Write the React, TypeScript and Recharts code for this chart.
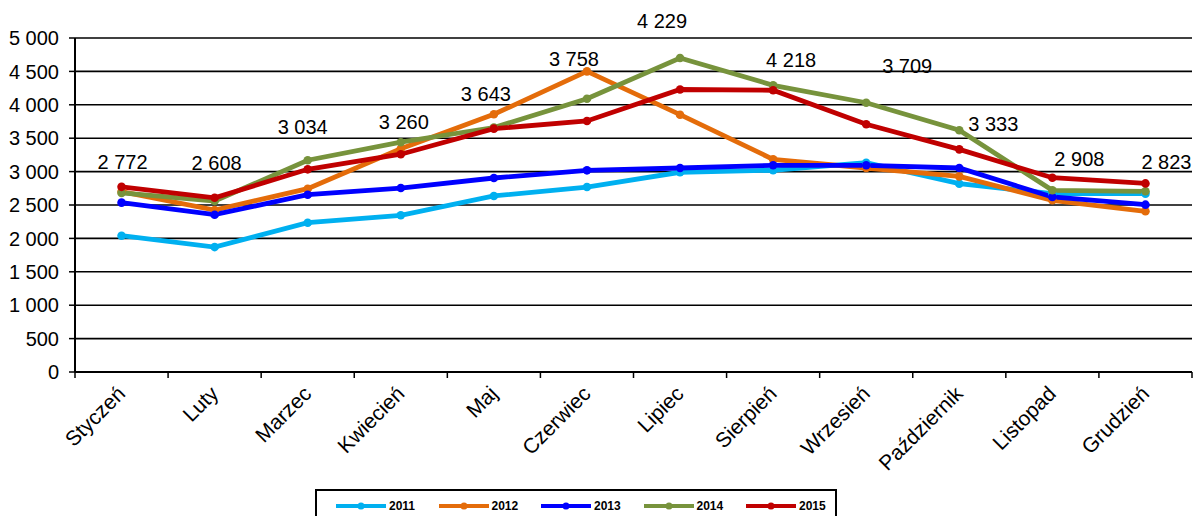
import React from 'react'
import {
  LineChart,
  Line,
  CartesianGrid,
  XAxis,
  YAxis,
  Legend,
  LabelList,
} from 'recharts'

const months = [
  'Styczeń',
  'Luty',
  'Marzec',
  'Kwiecień',
  'Maj',
  'Czerwiec',
  'Lipiec',
  'Sierpień',
  'Wrzesień',
  'Październik',
  'Listopad',
  'Grudzień',
]

const y2011 = [2040, 1870, 2235, 2346, 2635, 2769, 2990, 3020, 3133, 2819, 2670, 2670]
const y2012 = [2700, 2425, 2744, 3343, 3858, 4500, 3852, 3184, 3054, 2929, 2570, 2406]
const y2013 = [2535, 2355, 2654, 2754, 2904, 3019, 3054, 3094, 3094, 3054, 2620, 2505]
const y2014 = [2680, 2560, 3170, 3440, 3660, 4091, 4700, 4292, 4031, 3618, 2720, 2705]
const y2015 = [2772, 2608, 3034, 3260, 3643, 3758, 4229, 4218, 3709, 3333, 2908, 2823]

const yTicks = [0, 500, 1000, 1500, 2000, 2500, 3000, 3500, 4000, 4500, 5000]

const series = [
  { key: 'y2011', name: '2011', color: '#00B0F0' },
  { key: 'y2012', name: '2012', color: '#E46C0A' },
  { key: 'y2013', name: '2013', color: '#0000FF' },
  { key: 'y2014', name: '2014', color: '#77933C' },
  { key: 'y2015', name: '2015', color: '#C00000' },
]

// nudges for the 2015 value labels so they clear the other lines
const labelNudge: Array<[number, number]> = [
  [1, -25],
  [2, -35],
  [-5, -42],
  [3, -32],
  [-8, -35],
  [-13, -62],
  [-18, -69],
  [18, -30],
  [41, -58],
  [34, -25],
  [27, -19],
  [21, -21],
]

const data = months.map((month, i) => ({
  month,
  y2011: y2011[i],
  y2012: y2012[i],
  y2013: y2013[i],
  y2014: y2014[i],
  y2015: y2015[i],
}))

const WIDTH = 1193
const HEIGHT = 516
const LEFT = 75
const RIGHT = 1
const BAND = (WIDTH - LEFT - RIGHT) / months.length
const FONT = '"Liberation Sans", Arial, sans-serif'

const fmt = (v: number) => String(v).replace(/\B(?=(\d{3})+(?!\d))/g, ' ')

const MonthTick = (props: any) => {
  const { x, y, payload, index } = props
  const edge = x - BAND / 2
  const tx = x + 5
  const ty = y + 23
  return (
    <g>
      <line x1={edge} x2={edge} y1={y} y2={y + 6} stroke="#000" strokeWidth={1.5} />
      {index === months.length - 1 && (
        <line x1={x + BAND / 2} x2={x + BAND / 2} y1={y} y2={y + 6} stroke="#000" strokeWidth={1.5} />
      )}
      <text
        x={tx}
        y={ty}
        transform={`rotate(-45 ${tx} ${ty})`}
        textAnchor="end"
        fontSize={21}
        fontFamily={FONT}
        fill="#000"
      >
        {payload.value}
      </text>
    </g>
  )
}

const ValueLabel = (props: any) => {
  const { x, y, value, index } = props
  const [dx, dy] = labelNudge[index] || [0, -24]
  return (
    <text
      x={x + dx}
      y={y + dy}
      textAnchor="middle"
      dominantBaseline="central"
      fontSize={20}
      fontFamily={FONT}
      fill="#000"
    >
      {fmt(value)}
    </text>
  )
}

const LegendBox = () => (
  <div
    style={{
      boxSizing: 'border-box',
      width: 522,
      height: 32,
      border: '2px solid #000',
      background: '#fff',
      position: 'relative',
      fontFamily: FONT,
    }}
  >
    {series.map((s, i) => (
      <div
        key={s.key}
        style={{
          position: 'absolute',
          left: 18 + i * 102.5,
          top: 8,
          display: 'flex',
          alignItems: 'center',
          height: 14,
        }}
      >
        <svg width={54} height={12}>
          <line x1={1} x2={51} y1={6} y2={6} stroke={s.color} strokeWidth={4} />
          <circle cx={26} cy={6} r={3.5} fill={s.color} />
        </svg>
        <span style={{ fontSize: 12, fontWeight: 700, color: '#000' }}>{s.name}</span>
      </div>
    ))}
  </div>
)

export default function App() {
  return (
    <div style={{ position: 'absolute', left: 0, top: 0, width: WIDTH, height: HEIGHT, background: '#fff' }}>
      <LineChart
        width={WIDTH}
        height={HEIGHT}
        data={data}
        margin={{ top: 38, right: RIGHT, left: 0, bottom: 0 }}
      >
        <CartesianGrid vertical={false} stroke="#000" strokeWidth={1.6} />
        <XAxis
          dataKey="month"
          interval={0}
          height={112}
          padding={{ left: BAND / 2, right: BAND / 2 }}
          tickSize={0}
          tickMargin={0}
          tick={<MonthTick />}
          axisLine={{ stroke: '#000', strokeWidth: 2 }}
        />
        <YAxis
          width={LEFT}
          domain={[0, 5000]}
          ticks={yTicks}
          interval={0}
          tickFormatter={fmt}
          tickSize={6}
          tickMargin={10}
          tick={{ fontSize: 20, fontFamily: FONT, fill: '#000' }}
          tickLine={{ stroke: '#000', strokeWidth: 1.5 }}
          axisLine={{ stroke: '#000', strokeWidth: 2 }}
        />
        <Legend
          content={<LegendBox />}
          verticalAlign="bottom"
          wrapperStyle={{ left: 315, top: 489, width: 522 }}
        />
        {series.map((s) => (
          <Line
            key={s.key}
            type="linear"
            dataKey={s.key}
            name={s.name}
            stroke={s.color}
            strokeWidth={4.8}
            dot={{ r: 4.3, fill: s.color, stroke: 'none' }}
            activeDot={false}
            isAnimationActive={false}
          >
            {s.key === 'y2015' && <LabelList dataKey="y2015" content={<ValueLabel />} />}
          </Line>
        ))}
      </LineChart>
    </div>
  )
}
